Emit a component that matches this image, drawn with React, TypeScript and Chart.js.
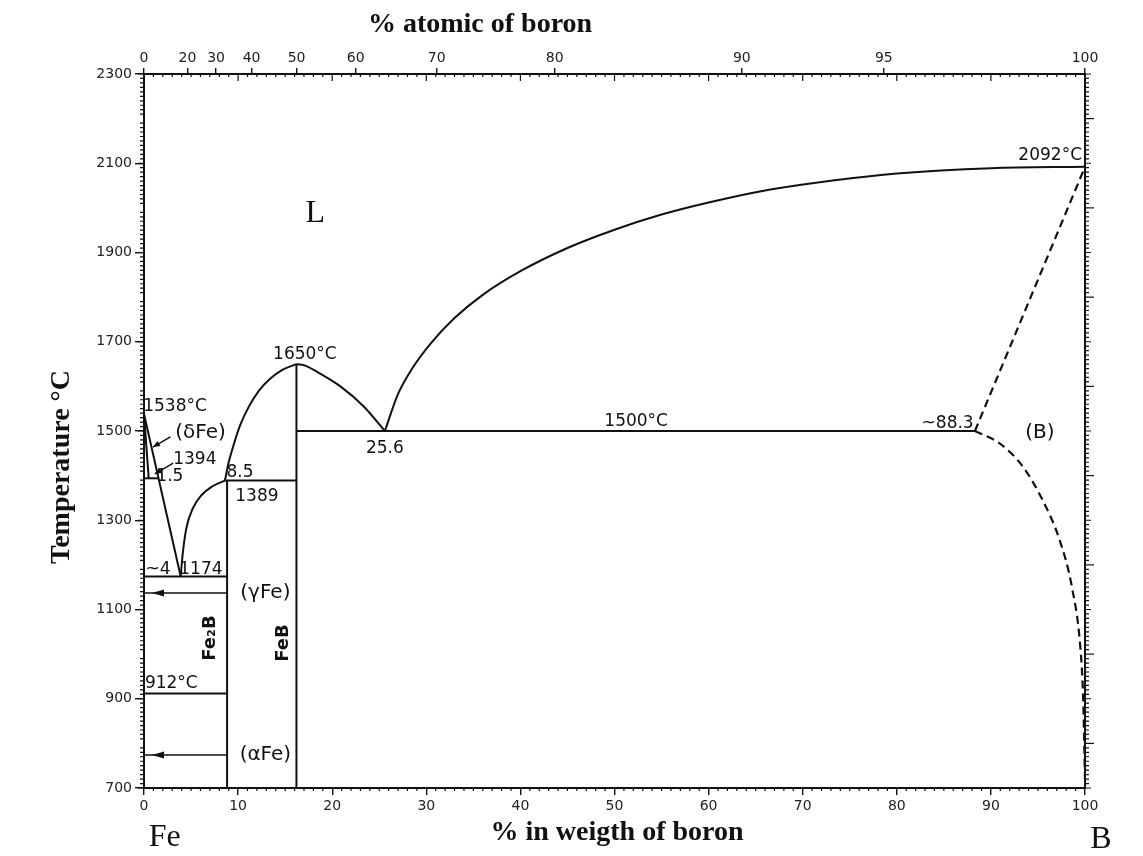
import React, { useEffect, useRef } from "react";
import { Chart, registerables } from "chart.js";
Chart.register(...registerables);

// ---- Phase boundaries: [wt% B, °C] ----
const feLiquidus = [[0, 1538], [3.9, 1174]];
const deltaSolidus = [[0, 1538], [0.5, 1394]];
const deltaGammaLine = [[0, 1394], [1.5, 1394]];
const fe2bLiquidus = [[3.9, 1174], [4.1, 1222], [4.5, 1282], [5.2, 1327], [6.1, 1356], [7.2, 1375], [8.6, 1389]];
const febLiquidusLeft = [[8.6, 1389], [9.0, 1430], [9.5, 1467], [10.2, 1512], [11.1, 1553], [12.2, 1590], [13.4, 1617], [14.7, 1637], [16.2, 1650]];
const febLiquidusRight = [[16.2, 1650], [17.2, 1646], [18.35, 1633], [20.8, 1601], [23.3, 1556], [25.6, 1500]];
const boronLiquidus = [[25.6, 1500], [27.0, 1583], [28.5, 1640], [30.5, 1697], [33.0, 1753], [36.0, 1805], [40.0, 1858], [45.0, 1910], [50.0, 1951], [55.0, 1985], [60.0, 2012], [66.0, 2039], [72.0, 2058], [80.0, 2077], [90.0, 2089], [100, 2092]];
const boronSolidus = [[88.3, 1500], [100, 2092]];
const boronSolvus = [[88.3, 1500], [91.0, 1471], [93.4, 1420], [95.5, 1345], [97.3, 1256], [98.6, 1151], [99.5, 1016], [99.8, 904], [100, 720]];
const eutecticFeB_B = [[16.2, 1500], [88.3, 1500]];
const peritectic1389 = [[8.6, 1389], [16.2, 1389]];
const eutectic1174 = [[0, 1174], [8.83, 1174]];
const transition912 = [[0, 912], [8.83, 912]];
const fe2bLine = [[8.83, 700], [8.83, 1389]];
const febLine = [[16.2, 700], [16.2, 1650]];
const gammaArrow = [[8.83, 1137], [0, 1137]];
const alphaArrow = [[8.83, 774], [0, 774]];
const deltaPointer = [[2.8, 1487], [0.95, 1464]];
const pointer1394 = [[3.1, 1428], [1.15, 1404]];
const arrowTips = [[0.85, 1137], [0.85, 774]];

// ---- Axis ticks ----
const weightTicks = [0, 10, 20, 30, 40, 50, 60, 70, 80, 90, 100];
const atomicTicks = [0, 20, 30, 40, 50, 60, 70, 80, 90, 95, 100];
const tempTicks = [700, 900, 1100, 1300, 1500, 1700, 1900, 2100, 2300];
const M_B = 10.81;
const M_FE = 55.845;
const atToWt = (a: number) => (a * M_B) / (a * M_B + (100 - a) * M_FE) * 100;

// ---- Annotations ----
const labelTexts = ["L", "2092°C", "1650°C", "1538°C", "(δFe)", "1394", "1.5", "8.5", "1389", "~4", "1174", "(γFe)", "(αFe)", "912°C", "25.6", "1500°C", "~88.3", "(B)"];
const labelX = [18.2, 96.3, 17.1, 3.3, 6.0, 5.4, 2.75, 10.2, 12.0, 1.5, 6.05, 12.9, 12.9, 2.9, 25.6, 52.3, 85.4, 95.2];
const labelY = [1988, 2118, 1672, 1554, 1496, 1435, 1397, 1406, 1352, 1189, 1189, 1137, 774, 933, 1460, 1520, 1516, 1496];
const bigLabels = ["(δFe)", "(γFe)", "(αFe)", "(B)"];
const rotatedTexts = ["Fe₂B", "FeB"];
const rotatedX = [7.0, 14.8];
const rotatedY = [1036, 1025];

const INK = "#111";
const SANS = "'DejaVu Sans', sans-serif";
const SERIF = "'Liberation Serif', serif";

const toPts = (arr: number[][]) => arr.map(([x, y]) => ({ x, y }));

function drawHead(ctx: CanvasRenderingContext2D, fx: number, fy: number, tx: number, ty: number, len: number, half: number) {
  const ang = Math.atan2(ty - fy, tx - fx);
  ctx.beginPath();
  ctx.moveTo(tx, ty);
  ctx.lineTo(tx - len * Math.cos(ang) + half * Math.sin(ang), ty - len * Math.sin(ang) - half * Math.cos(ang));
  ctx.lineTo(tx - len * Math.cos(ang) - half * Math.sin(ang), ty - len * Math.sin(ang) + half * Math.cos(ang));
  ctx.closePath();
  ctx.fill();
}

const decorPlugin = {
  id: "decor",
  beforeDraw(chart: any) {
    const ctx = chart.ctx;
    ctx.save();
    ctx.fillStyle = "#fff";
    ctx.fillRect(0, 0, chart.width, chart.height);
    ctx.restore();
  },
  afterDraw(chart: any) {
    const ctx: CanvasRenderingContext2D = chart.ctx;
    const xs = chart.scales.x;
    const ys = chart.scales.y;
    const { left, right, top, bottom } = chart.chartArea;
    ctx.save();
    ctx.strokeStyle = INK;
    ctx.fillStyle = INK;
    ctx.lineWidth = 1.2;
    // minor ticks on temperature axes
    for (let t = 700; t <= 2300; t += 10) {
      const py = ys.getPixelForValue(t);
      const major = t % 200 === 0;
      const lenL = major ? 0 : t % 100 === 0 ? 6 : 4;
      const lenR = major ? 9 : t % 100 === 0 ? 6 : 4;
      ctx.beginPath();
      if (lenL) { ctx.moveTo(left - lenL, py); ctx.lineTo(left, py); }
      ctx.moveTo(right, py); ctx.lineTo(right + lenR, py);
      ctx.stroke();
    }
    // minor ticks on composition axes
    for (let w = 0; w <= 100; w += 1) {
      const px = xs.getPixelForValue(w);
      ctx.beginPath();
      if (w % 10 !== 0) { ctx.moveTo(px, bottom); ctx.lineTo(px, bottom + 3); }
      const lt = w % 10 === 0 ? 7 : 3;
      ctx.moveTo(px, top); ctx.lineTo(px, top + lt);
      ctx.stroke();
    }
    // arrowheads
    const heads = [
      [gammaArrow[0], arrowTips[0]],
      [alphaArrow[0], arrowTips[1]],
      [deltaPointer[0], deltaPointer[1]],
      [pointer1394[0], pointer1394[1]],
    ];
    heads.forEach(([f, t], i) => {
      const fx = xs.getPixelForValue(f[0]);
      const fy = ys.getPixelForValue(f[1]);
      const tx = xs.getPixelForValue(t[0]);
      const ty = ys.getPixelForValue(t[1]);
      drawHead(ctx, fx, fy, tx, ty, i < 2 ? 12 : 7, i < 2 ? 3.5 : 3);
    });
    // labels
    ctx.textAlign = "center";
    ctx.textBaseline = "middle";
    labelTexts.forEach((txt, i) => {
      if (txt === "L") ctx.font = `32px ${SERIF}`;
      else if (bigLabels.includes(txt)) ctx.font = `20px ${SANS}`;
      else ctx.font = `17px ${SANS}`;
      ctx.fillText(txt, xs.getPixelForValue(labelX[i]), ys.getPixelForValue(labelY[i]));
    });
    ctx.font = `bold 18px ${SANS}`;
    rotatedTexts.forEach((txt, i) => {
      ctx.save();
      ctx.translate(xs.getPixelForValue(rotatedX[i]), ys.getPixelForValue(rotatedY[i]));
      ctx.rotate(-Math.PI / 2);
      ctx.fillText(txt, 0, 0);
      ctx.restore();
    });
    // titles
    ctx.font = `bold 28px ${SERIF}`;
    ctx.fillText("% atomic of boron", 480, 25);
    ctx.fillText("% in weigth of boron", 617, 833);
    ctx.save();
    ctx.translate(62, 467);
    ctx.rotate(-Math.PI / 2);
    ctx.fillText("Temperature °C", 0, 0);
    ctx.restore();
    ctx.font = `32px ${SERIF}`;
    ctx.fillText("Fe", xs.getPixelForValue(2.2), 838);
    ctx.fillText("B", xs.getPixelForValue(100.2) + 14, 840);
    ctx.restore();
  },
};

function lineDs(arr: number[][], opts: any = {}) {
  return {
    data: toPts(arr),
    showLine: true,
    borderColor: INK,
    borderWidth: 2,
    pointRadius: 0,
    fill: false,
    tension: 0,
    ...opts,
  };
}

export default function App() {
  const ref = useRef<HTMLCanvasElement | null>(null);
  useEffect(() => {
    if (!ref.current) return;
    const curve = { cubicInterpolationMode: "monotone" };
    const dashed = { borderDash: [8, 5], borderWidth: 2.2 };
    const tickFont = { family: SANS, size: 14 };
    const plain = (v: any) => String(v);
    const chart = new Chart(ref.current, {
      type: "scatter",
      data: {
        datasets: [
          lineDs(feLiquidus),
          lineDs(deltaSolidus),
          lineDs(deltaGammaLine),
          lineDs(fe2bLiquidus, curve),
          lineDs(febLiquidusLeft, curve),
          lineDs(febLiquidusRight, curve),
          lineDs(boronLiquidus, curve),
          lineDs(boronSolidus, dashed),
          lineDs(boronSolvus, { ...curve, ...dashed }),
          lineDs(eutecticFeB_B),
          lineDs(peritectic1389),
          lineDs(eutectic1174),
          lineDs(transition912),
          lineDs(fe2bLine),
          lineDs(febLine),
          lineDs(gammaArrow, { borderWidth: 1.6 }),
          lineDs(alphaArrow, { borderWidth: 1.6 }),
          lineDs(deltaPointer, { borderWidth: 1.4 }),
          lineDs(pointer1394, { borderWidth: 1.4 }),
        ] as any,
      },
      options: {
        animation: false,
        responsive: true,
        maintainAspectRatio: false,
        layout: { padding: 0 },
        plugins: { legend: { display: false }, tooltip: { enabled: false } },
        scales: {
          x: {
            type: "linear",
            position: "bottom",
            min: 0,
            max: 100,
            afterBuildTicks: (s: any) => { s.ticks = weightTicks.map((v) => ({ value: v })); },
            ticks: { font: tickFont, color: "#222", maxRotation: 0, autoSkip: false, padding: 3, callback: plain },
            grid: { drawOnChartArea: false, tickLength: 7, color: INK, lineWidth: 1.4 },
            border: { color: INK, width: 2 },
            afterFit: (s: any) => { s.height = 68; },
          },
          x2: {
            type: "linear",
            position: "top",
            min: 0,
            max: 100,
            afterBuildTicks: (s: any) => { s.ticks = atomicTicks.map((a) => ({ value: atToWt(a) })); },
            ticks: {
              font: tickFont,
              color: "#222",
              maxRotation: 0,
              minRotation: 0,
              autoSkip: false,
              padding: 1,
              callback: (_v: any, i: number) => String(atomicTicks[i]),
            },
            grid: { drawOnChartArea: false, tickLength: 6, color: INK, lineWidth: 1.4 },
            border: { color: INK, width: 2 },
            afterFit: (s: any) => { s.height = 74; },
          },
          y: {
            type: "linear",
            position: "left",
            min: 700,
            max: 2300,
            afterBuildTicks: (s: any) => { s.ticks = tempTicks.map((v) => ({ value: v })); },
            ticks: { font: tickFont, color: "#222", padding: 3, autoSkip: false, callback: plain },
            grid: { drawOnChartArea: false, tickLength: 9, color: INK, lineWidth: 1.4 },
            border: { color: INK, width: 2 },
            afterFit: (s: any) => { s.width = 144; },
          },
          y2: {
            type: "linear",
            position: "right",
            min: 700,
            max: 2300,
            ticks: { display: false },
            grid: { drawOnChartArea: false, drawTicks: false },
            border: { color: INK, width: 2 },
            afterFit: (s: any) => { s.width = 58; },
          },
        },
      } as any,
      plugins: [decorPlugin],
    });
    return () => chart.destroy();
  }, []);
  return (
    <div style={{ position: "absolute", left: 0, top: 0, width: 1143, height: 856, background: "#fff" }}>
      <canvas ref={ref} />
    </div>
  );
}
